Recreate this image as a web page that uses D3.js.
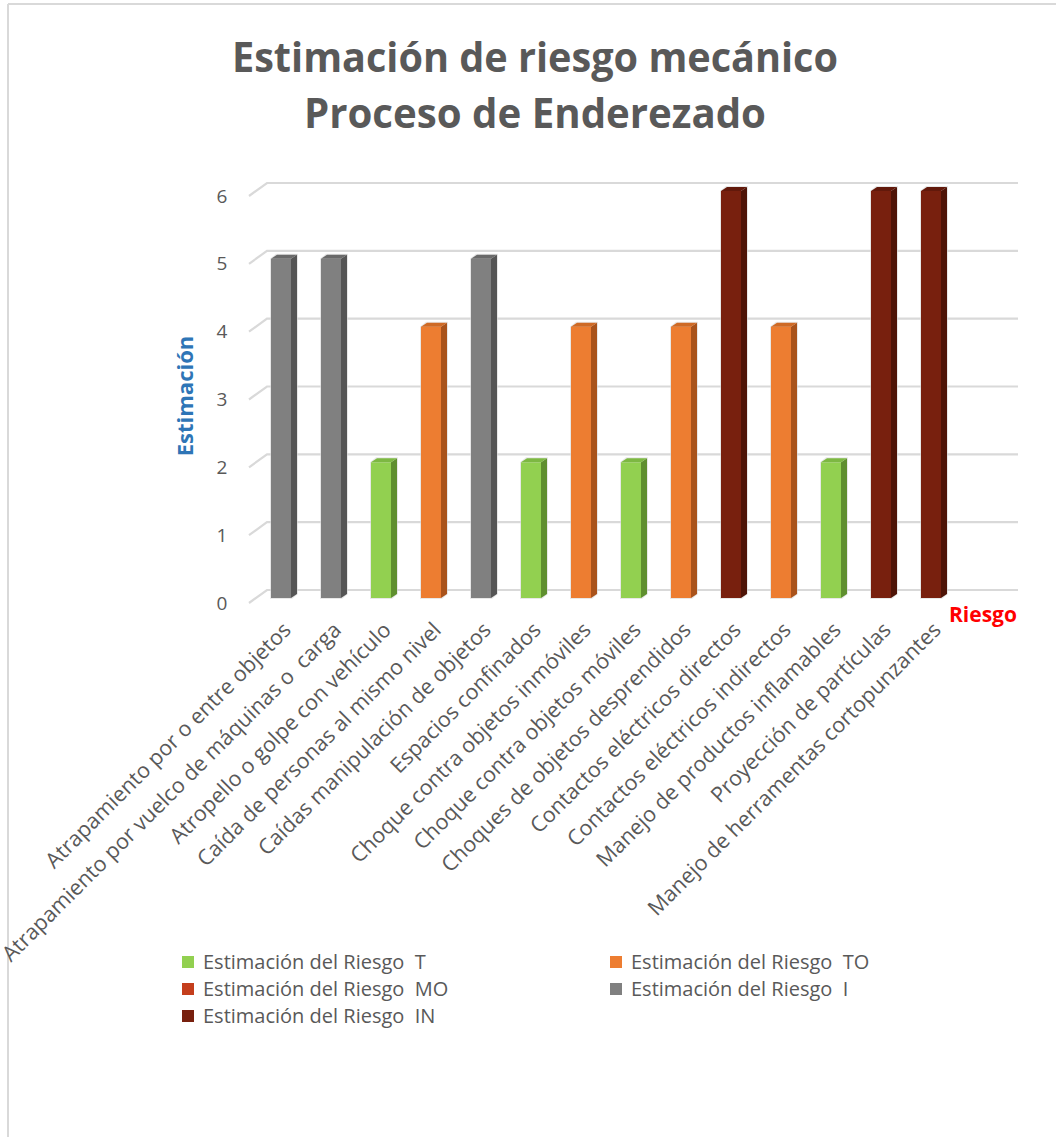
<!DOCTYPE html>
<html><head><meta charset="utf-8">
<script src="https://cdn.jsdelivr.net/npm/d3@7"></script>
<style>
html,body{margin:0;padding:0;background:#fff;}
svg{display:block;}
</style></head>
<body>
<svg id="chart" width="1056" height="1137"></svg>
<script>
const categories = [
  "Atrapamiento por o entre objetos",
  "Atrapamiento por vuelco de máquinas o  carga",
  "Atropello o golpe con vehículo",
  "Caída de personas al mismo nivel",
  "Caídas manipulación de objetos",
  "Espacios confinados",
  "Choque contra objetos inmóviles",
  "Choque contra objetos móviles",
  "Choques de objetos desprendidos",
  "Contactos eléctricos directos",
  "Contactos eléctricos indirectos",
  "Manejo de productos inflamables",
  "Proyección de partículas",
  "Manejo de herramentas cortopunzantes"
];
const seriesT  = [null,null,2,null,null,2,null,2,null,null,null,2,null,null];
const seriesTO = [null,null,null,4,null,null,4,null,4,null,4,null,null,null];
const seriesMO = [null,null,null,null,null,null,null,null,null,null,null,null,null,null];
const seriesI  = [5,5,null,null,5,null,null,null,null,null,null,null,null,null];
const seriesIN = [null,null,null,null,null,null,null,null,null,6,null,null,6,6];
const seriesNames = ["Estimación del Riesgo  T","Estimación del Riesgo  TO","Estimación del Riesgo  MO","Estimación del Riesgo  I","Estimación del Riesgo  IN"];
const yTicks = [0,1,2,3,4,5,6];
const titleLines = ["Estimación de riesgo mecánico","Proceso de Enderezado"];
const yAxisTitle = "Estimación";
const xAxisTitle = "Riesgo";

const seriesValues = [seriesT, seriesTO, seriesMO, seriesI, seriesIN];
const faceColors = [
  {front:"#92d050", side:"#5f8f2f", top:"#7db842"},
  {front:"#ed7d31", side:"#a9531b", top:"#cf6a25"},
  {front:"#c43e1c", side:"#8a2a12", top:"#a83518"},
  {front:"#808080", side:"#555555", top:"#6a6a6a"},
  {front:"#78200e", side:"#4e1407", top:"#62190b"}
];

const svg = d3.select("#chart");
const font = "'Open Sans', 'Noto Sans', sans-serif";

// border (top and left)
svg.append("line").attr("x1",8).attr("y1",4).attr("x2",1056).attr("y2",4).attr("stroke","#d9d9d9").attr("stroke-width",2);
svg.append("line").attr("x1",8).attr("y1",4).attr("x2",8).attr("y2",1137).attr("stroke","#d9d9d9").attr("stroke-width",2);

// title
const titleWidths = [606, 462];
const title = svg.append("text").attr("text-anchor","middle")
  .attr("font-family",font)
  .attr("font-weight","bold").attr("font-size",42).attr("fill","#595959");
titleLines.forEach((t,i)=>{
  title.append("tspan").attr("x",535).attr("y",72 + i*56)
    .attr("textLength",titleWidths[i]).attr("lengthAdjust","spacingAndGlyphs").text(t);
});

const x = d3.scaleBand().domain(categories).range([256,956]).padding(0);
const y = d3.scaleLinear().domain([0,6]).range([590,183]);

const depthX = 18, depthY = 13;
const backLeft = 267, backRight = 1018;

// gridlines
const grid = svg.append("g");
yTicks.forEach(v=>{
  grid.append("path")
    .attr("d", `M${backLeft-depthX},${y(v)+depthY} L${backLeft},${y(v)} L${backRight},${y(v)}`)
    .attr("fill","none").attr("stroke","#d9d9d9").attr("stroke-width",2.2);
});

// y tick labels
svg.append("g").selectAll("text").data(yTicks).join("text")
  .attr("x",222).attr("y",d=>y(d)+depthY).attr("dy","0.35em")
  .attr("text-anchor","middle").attr("font-family",font).attr("font-size",19)
  .attr("fill","#595959").text(d=>d);

// bars (3D)
const barW = 20, sideX = 6, sideY = 4, frontOff = 8;
const bars = svg.append("g");
seriesValues.forEach((vals,s)=>{
  const c = faceColors[s];
  vals.forEach((v,i)=>{
    if (v==null) return;
    const cx = x(categories[i]) + x.bandwidth()/2;
    const x0 = cx - barW/2, x1 = cx + barW/2;
    const yt = y(v) + frontOff, yb = y(0) + frontOff;
    const g = bars.append("g");
    g.append("path").attr("d",`M${x0-1},${yt} L${x0+sideX-1},${yt-sideY-1} L${x1+sideX+1},${yt-sideY-1} L${x1+sideX+1},${yb-sideY} L${x1+1},${yb+1} L${x0-1},${yb+1} Z`)
      .attr("fill","#d8d8d8").attr("opacity",0.6);
    g.append("rect").attr("x",x0).attr("y",yt).attr("width",barW).attr("height",yb-yt).attr("fill",c.front);
    g.append("path").attr("d",`M${x1},${yt} L${x1+sideX},${yt-sideY} L${x1+sideX},${yb-sideY} L${x1},${yb} Z`).attr("fill",c.side);
    g.append("path").attr("d",`M${x0},${yt} L${x0+sideX},${yt-sideY} L${x1+sideX},${yt-sideY} L${x1},${yt} Z`).attr("fill",c.top);
  });
});

// category labels
svg.append("g").selectAll("text").data(categories).join("text")
  .attr("transform",d=>`translate(${x(d)+x.bandwidth()/2+6},${626}) rotate(-45)`)
  .attr("text-anchor","end").attr("dy","0.35em")
  .attr("font-family",font).attr("font-size",21.5).attr("fill","#595959")
  .style("white-space","pre").attr("xml:space","preserve")
  .text(d=>d);

// axis titles
svg.append("text").attr("transform","translate(193,396) rotate(-90)")
  .attr("text-anchor","middle").attr("font-family",font).attr("font-weight","bold")
  .attr("font-size",22).attr("fill","#2e75b6").text(yAxisTitle);
svg.append("text").attr("x",983).attr("y",622).attr("text-anchor","middle")
  .attr("font-family",font).attr("font-weight","bold").attr("font-size",21)
  .attr("fill","#ff0000").text(xAxisTitle);

// legend
const legendPos = [[182,962],[610,962],[182,989],[610,989],[182,1016]];
const leg = svg.append("g").selectAll("g").data(seriesNames).join("g")
  .attr("transform",(d,i)=>`translate(${legendPos[i][0]},${legendPos[i][1]})`);
leg.append("rect").attr("x",0).attr("y",-6).attr("width",12).attr("height",12)
  .attr("fill",(d,i)=>faceColors[i].front);
leg.append("text").attr("x",21).attr("y",0).attr("dy","0.35em")
  .attr("font-family",font).attr("font-size",20).attr("fill","#595959")
  .style("white-space","pre").attr("xml:space","preserve").text(d=>d);
</script>
</body></html>
